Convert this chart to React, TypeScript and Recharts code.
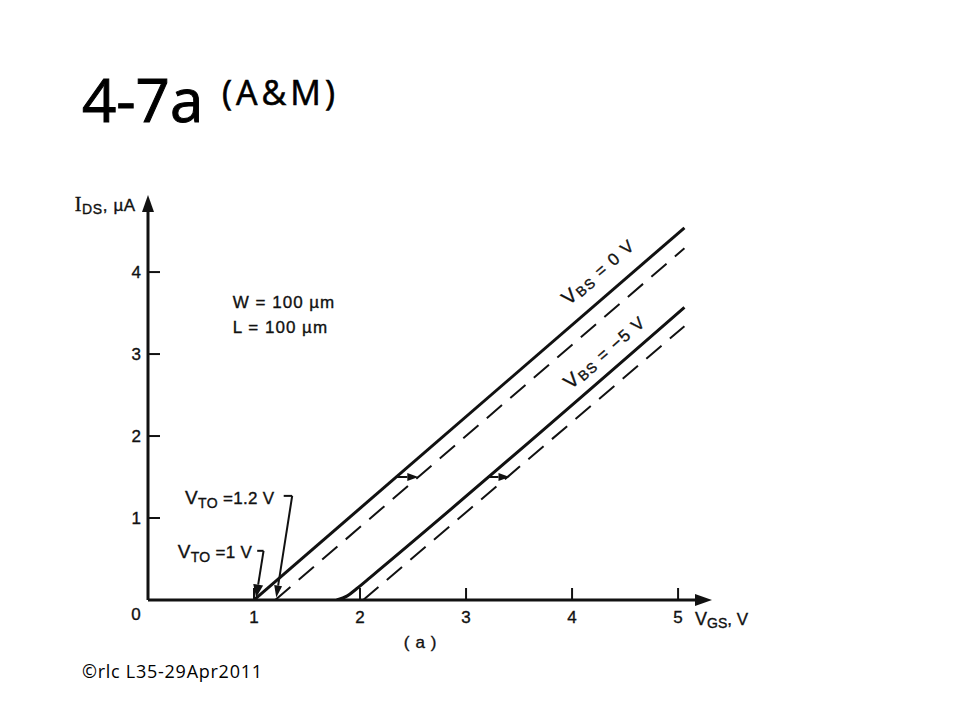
import { ComposedChart, Line, XAxis, YAxis, ReferenceLine, ReferenceDot } from "recharts";

// V_GS (V) and I_DS (uA)
const solidZeroX = [1.0, 5.06];
const solidZeroY = [0, 4.54];
const dashedZeroX = [1.2, 5.06];
const dashedZeroY = [0, 4.29];
const solidFiveX = [1.78, 1.88, 1.97, 2.1, 5.06];
const solidFiveY = [0, 0.05, 0.14, 0.28, 3.57];
const dashedFiveX = [2.03, 5.06];
const dashedFiveY = [0, 3.34];

// little shift arrows between solid and dashed lines
const shiftLevel = 1.5;
const shiftZero = [2.34, 2.55];
const shiftFive = [3.2, 3.41];

const xTicks = [0, 1, 2, 3, 4, 5];
const yTicks = [1, 2, 3, 4];
const xMax = 5.32;
const yMax = 4.94;

const INK = "#111";
const FONT = "'Liberation Sans', Arial, sans-serif";

const toPoints = (xs: number[], ys: number[]) => xs.map((x, i) => ({ x, y: ys[i] }));

const solidZero = toPoints(solidZeroX, solidZeroY);
const dashedZero = toPoints(dashedZeroX, dashedZeroY);
const solidFive = toPoints(solidFiveX, solidFiveY);
const dashedFive = toPoints(dashedFiveX, dashedFiveY);

// scanned lettering is a bit heavier than the plain font
const inkText = { fontFamily: FONT, fill: INK, stroke: INK, strokeWidth: 0.35 };

// line that ends in a filled arrow head at (x2, y2)
const arrowShape = (len: number, half: number, width: number) => (p: any) => {
  const { x1, y1, x2, y2 } = p;
  const a = Math.atan2(y2 - y1, x2 - x1);
  const c = Math.cos(a);
  const s = Math.sin(a);
  const bx = x2 - len * c;
  const by = y2 - len * s;
  const ox = -s * half;
  const oy = c * half;
  return (
    <g>
      <line x1={x1} y1={y1} x2={bx} y2={by} stroke={INK} strokeWidth={width} />
      <polygon points={`${x2},${y2} ${bx + ox},${by + oy} ${bx - ox},${by - oy}`} fill={INK} />
    </g>
  );
};

const plainShape = (p: any) => (
  <line x1={p.x1} y1={p.y1} x2={p.x2} y2={p.y2} stroke={INK} strokeWidth={2} />
);

const XTick = (p: any) => {
  const { x, y, payload } = p;
  const v = payload.value;
  if (v === 0) {
    return (
      <text x={x - 12} y={y + 20} textAnchor="middle" fontSize={17} {...inkText}>
        0
      </text>
    );
  }
  return (
    <g>
      <line x1={x} y1={y} x2={x} y2={y - 12} stroke={INK} strokeWidth={2} />
      <text x={x} y={y + 23} textAnchor="middle" fontSize={17} {...inkText}>
        {v}
      </text>
    </g>
  );
};

const YTick = (p: any) => {
  const { x, y, payload } = p;
  return (
    <g>
      <line x1={x} y1={y} x2={x + 12} y2={y} stroke={INK} strokeWidth={2} />
      <text x={x - 7} y={y + 6} textAnchor="end" fontSize={17} {...inkText}>
        {payload.value}
      </text>
    </g>
  );
};

const textShape = (content: any, anchor: string = "start", rotate = 0, spacing = 0.6) => (p: any) => (
  <text
    x={p.cx}
    y={p.cy}
    dy="0.35em"
    textAnchor={anchor}
    fontSize={17}
    letterSpacing={spacing}
    {...inkText}
    transform={rotate ? `rotate(${rotate} ${p.cx} ${p.cy})` : undefined}
  >
    {content}
  </text>
);

const vbs = (value: string) => (
  <>
    <tspan fontSize={20}>V</tspan>
    <tspan fontSize={14} dy={2}>BS</tspan>
    <tspan dy={-2}>{` = ${value} V`}</tspan>
  </>
);

const vto = (value: string) => (
  <>
    <tspan fontSize={19}>V</tspan>
    <tspan fontSize={14} dy={4}>TO</tspan>
    <tspan dy={-4}>{` =${value} V`}</tspan>
  </>
);

export default function App() {
  return (
    <div style={{ position: "absolute", left: 0, top: 0, width: 960, height: 720, background: "#fff" }}>
      <div style={{ position: "absolute", left: 0, top: 0 }}>
        <ComposedChart width={960} height={720} margin={{ top: 195, right: 248, bottom: 90, left: 108 }}>
          <XAxis
            type="number"
            dataKey="x"
            domain={[0, xMax]}
            ticks={xTicks}
            allowDataOverflow
            axisLine={false}
            tickLine={false}
            tickSize={0}
            tickMargin={0}
            height={30}
            tick={<XTick />}
          />
          <YAxis
            type="number"
            dataKey="y"
            domain={[0, yMax]}
            ticks={yTicks}
            allowDataOverflow
            axisLine={false}
            tickLine={false}
            tickSize={0}
            tickMargin={0}
            width={40}
            tick={<YTick />}
          />

          {/* axes with arrow heads */}
          <ReferenceLine segment={[{ x: 0, y: 0 }, { x: xMax, y: 0 }]} ifOverflow="visible" shape={arrowShape(17, 6, 3)} />
          <ReferenceLine segment={[{ x: 0, y: 0 }, { x: 0, y: yMax }]} ifOverflow="visible" shape={arrowShape(17, 6, 3)} />

          <Line data={solidZero} dataKey="y" type="linear" stroke={INK} strokeWidth={3} dot={false} isAnimationActive={false} />
          <Line data={dashedZero} dataKey="y" type="linear" stroke={INK} strokeWidth={2} strokeDasharray="20 11" dot={false} isAnimationActive={false} />
          <Line data={solidFive} dataKey="y" type="monotone" stroke={INK} strokeWidth={3} dot={false} isAnimationActive={false} />
          <Line data={dashedFive} dataKey="y" type="linear" stroke={INK} strokeWidth={2} strokeDasharray="20 11" dot={false} isAnimationActive={false} />

          {/* shift arrows */}
          <ReferenceLine segment={[{ x: shiftZero[0], y: shiftLevel }, { x: shiftZero[1], y: shiftLevel }]} ifOverflow="visible" shape={arrowShape(11, 4, 2)} />
          <ReferenceLine segment={[{ x: shiftFive[0], y: shiftLevel }, { x: shiftFive[1], y: shiftLevel }]} ifOverflow="visible" shape={arrowShape(11, 4, 2)} />

          {/* V_TO pointers */}
          <ReferenceLine segment={[{ x: 1.28, y: 1.27 }, { x: 1.36, y: 1.27 }]} ifOverflow="visible" shape={plainShape} />
          <ReferenceLine segment={[{ x: 1.36, y: 1.27 }, { x: 1.21, y: 0.03 }]} ifOverflow="visible" shape={arrowShape(12, 4, 2)} />
          <ReferenceLine segment={[{ x: 1.03, y: 0.6 }, { x: 1.09, y: 0.6 }]} ifOverflow="visible" shape={plainShape} />
          <ReferenceLine segment={[{ x: 1.09, y: 0.6 }, { x: 1.02, y: 0.03 }]} ifOverflow="visible" shape={arrowShape(13, 5, 2)} />

          {/* annotations */}
          <ReferenceDot x={-0.69} y={4.82} ifOverflow="visible" shape={textShape(
            <>
              <tspan fontSize={20} fontFamily="'Liberation Serif', serif">I</tspan>
              <tspan fontSize={14} dy={3}>DS</tspan>
              <tspan dy={-3}>{",   \u00b5A"}</tspan>
            </>
          )} />
          <ReferenceDot x={0.8} y={3.63} ifOverflow="visible" shape={textShape("W = 100 \u00b5m", "start", 0, 1)} />
          <ReferenceDot x={0.8} y={3.33} ifOverflow="visible" shape={textShape("L = 100 \u00b5m", "start", 0, 1)} />
          <ReferenceDot x={4.25} y={4.0} ifOverflow="visible" shape={textShape(vbs("0"), "middle", -41, 1.4)} />
          <ReferenceDot x={4.31} y={3.02} ifOverflow="visible" shape={textShape(vbs("\u22125"), "middle", -41, 1.4)} />
          <ReferenceDot x={0.35} y={1.24} ifOverflow="visible" shape={textShape(vto("1.2"), "start", 0, 0.3)} />
          <ReferenceDot x={0.28} y={0.585} ifOverflow="visible" shape={textShape(vto("1"), "start", 0, 0.3)} />
          <ReferenceDot x={5.16} y={-0.23} ifOverflow="visible" shape={textShape(
            <>
              <tspan fontSize={18}>V</tspan>
              <tspan fontSize={14} dy={3}>GS</tspan>
              <tspan dy={-3}>{",  V"}</tspan>
            </>
          , "start", 0, 0)} />
          <ReferenceDot x={2.57} y={-0.51} ifOverflow="visible" shape={textShape("( a )", "middle")} />
        </ComposedChart>
      </div>
      <svg width={960} height={720} style={{ position: "absolute", left: 0, top: 0, pointerEvents: "none" }}>
        <text x={82} y={122} fontSize={60} fontFamily="'Open Sans', sans-serif" fill="#000" stroke="#000" strokeWidth={1}>
          4-7a
        </text>
        <text x={222} y={105} fontSize={34} fontFamily="'Open Sans', sans-serif" fill="#000" stroke="#000" strokeWidth={0.6} textLength={113} lengthAdjust="spacing">
          (A&amp;M)
        </text>
        <text x={82} y={678} fontSize={18} fontFamily="'Open Sans', sans-serif" fill="#000" textLength={180} lengthAdjust="spacing">
          ©rlc L35-29Apr2011
        </text>
      </svg>
    </div>
  );
}
